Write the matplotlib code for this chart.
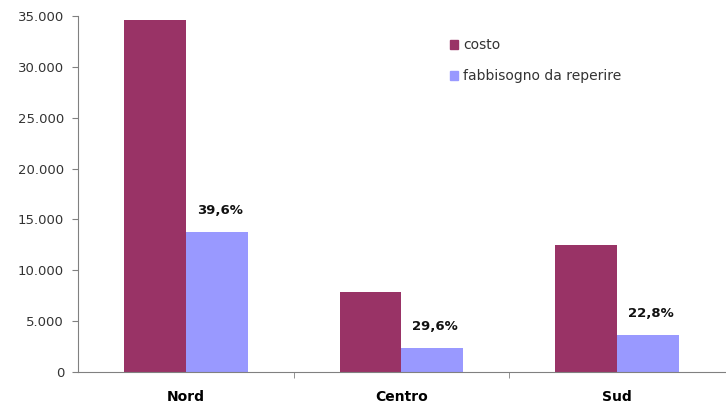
import matplotlib.pyplot as plt
from matplotlib.ticker import FuncFormatter, FixedLocator
from matplotlib.patches import Patch
import numpy as np

# Dati per area geografica
aree = ['Nord', 'Centro', 'Sud']
costo = [34600, 7900, 12500]
fabbisogno = [13750, 2350, 3650]
percentuali = ['39,6%', '29,6%', '22,8%']

col_costo = '#993366'
col_fabb = '#9999ff'

plt.rcParams['font.family'] = ['DejaVu Sans']

fig = plt.figure(figsize=(7.26, 4.08), dpi=100)
ax = fig.add_axes([0.1074, 0.0882, 0.8912, 0.8726])

x = np.arange(len(aree))
w = 0.287
ax.bar(x - w / 2, costo, width=w, color=col_costo, label='costo')
ax.bar(x + w / 2, fabbisogno, width=w, color=col_fabb, label='fabbisogno da reperire')

# etichette percentuali sopra le barre del fabbisogno
for xi, v, p in zip(x, fabbisogno, percentuali):
    ax.annotate(p, (xi + w / 2, v), xytext=(2, 11), textcoords='offset points',
                ha='center', va='bottom', fontsize=9.5, fontweight='bold', color='#111111')

ax.set_xlim(-0.5, 2.5)
ax.set_ylim(0, 35000)
ax.yaxis.set_major_locator(FixedLocator(np.arange(0, 35001, 5000)))
ax.yaxis.set_major_formatter(FuncFormatter(lambda v, pos: f'{int(v):,}'.replace(',', '.')))

ax.set_xticks(x)
ax.set_xticklabels(aree, fontweight='bold', fontsize=10)
ax.tick_params(axis='x', length=0, pad=13)
ax.xaxis.set_minor_locator(FixedLocator([0.5, 1.5]))
ax.tick_params(axis='x', which='minor', length=4, color='#808080')
ax.tick_params(axis='y', length=4, color='#808080', labelsize=9.5, labelcolor='#333333', pad=6)

for s in ['top', 'right']:
    ax.spines[s].set_visible(False)
for s in ['left', 'bottom']:
    ax.spines[s].set_color('#808080')

handles = [Patch(color=col_costo, label='costo'),
           Patch(color=col_fabb, label='fabbisogno da reperire')]
ax.legend(handles=handles, loc='upper left', bbox_to_anchor=(0.555, 0.972),
          frameon=False, fontsize=10, handlelength=0.6, handleheight=0.6,
          handletextpad=0.35, labelspacing=1.2, labelcolor='#333333')

fig.savefig('out.png', dpi=100)
